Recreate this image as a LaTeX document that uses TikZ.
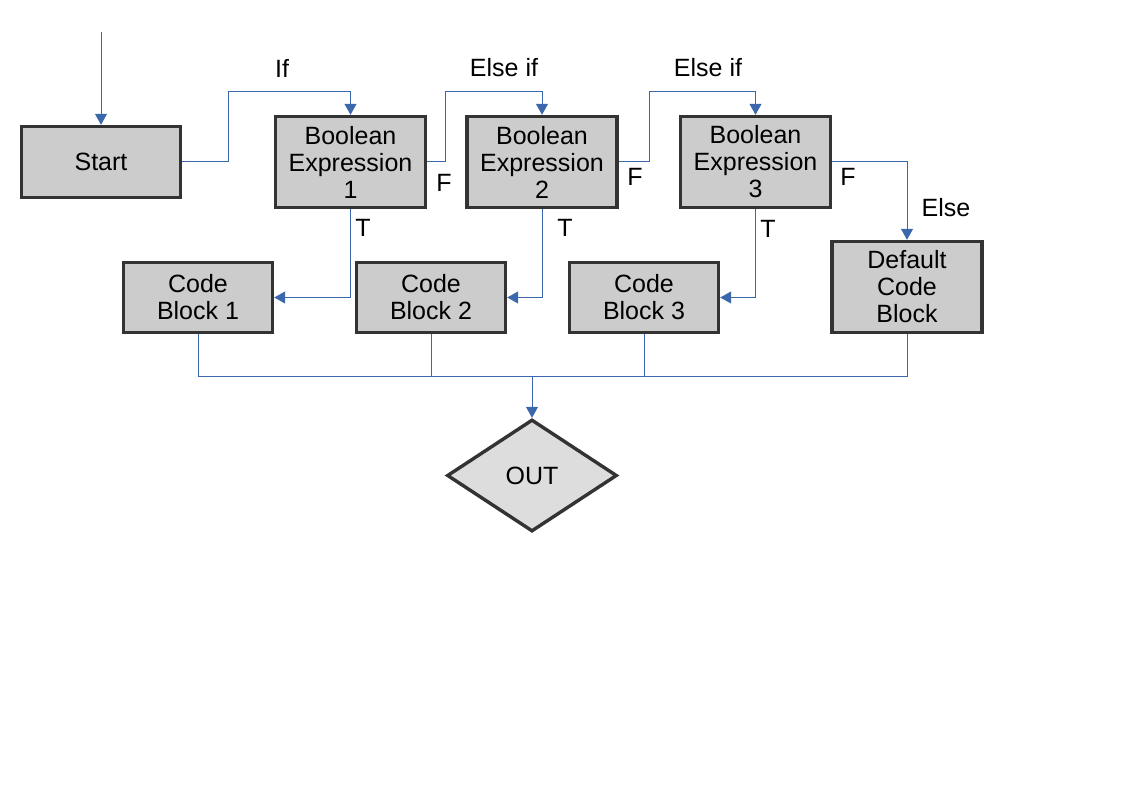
\documentclass[tikz,border=0pt]{standalone}
\usepackage{fontspec}
\setmainfont{Liberation Sans}
\usepackage{tikz}
\usetikzlibrary{arrows.meta,positioning,calc,shapes.geometric}
\definecolor{wire}{HTML}{3B68AC}
\definecolor{edge}{HTML}{333333}
\definecolor{boxfill}{HTML}{CCCCCC}
\definecolor{outfill}{HTML}{DDDDDD}
\tikzset{
  >={Triangle[length=11pt,width=12pt]},
  box/.style={draw=edge,fill=boxfill,line width=3.4pt,inner sep=0pt,align=center,font=\fontsize{25}{27}\selectfont},
  bexp/.style={box,minimum width=150pt,minimum height=91pt},
  cblk/.style={box,minimum width=149pt,minimum height=70pt},
  lab/.style={font=\fontsize{25}{27}\selectfont},
  wline/.style={draw=wire,line width=1pt},
  arr/.style={wline,->},
}
\begin{document}
\begin{tikzpicture}[x=1pt,y=-1pt]
\useasboundingbox (0,0) rectangle (1123,794);
% decision row
\node[box,minimum width=159pt,minimum height=71pt] (start) at (101,162) {Start};
\node[bexp] (be1) at (350.5,162) {Boolean\\Expression\\1};
\node[bexp] (be2) at (542,162) {Boolean\\Expression\\2};
\node[bexp] (be3) at (755.5,162) {Boolean\\Expression\\3};
% code blocks
\node[cblk] (cb1) at (198,297.5) {Code\\Block 1};
\node[cblk] (cb2) at (431,297.5) {Code\\Block 2};
\node[cblk] (cb3) at (644,297.5) {Code\\Block 3};
\node[bexp] (dflt) at (907,287) {Default\\Code\\Block};
\node[box,diamond,fill=outfill,minimum width=170pt,minimum height=112pt] (out) at (532,475.5) {OUT};
% branch labels
\node[lab] (lif) at (282,68) {If};
\node[lab] (lei1) at (504,68) {Else if};
\node[lab] (lei2) at (708,68) {Else if};
\node[lab] (lels) at (946,208) {Else};
\foreach \nm/\x/\y in {f1/444/183,f2/635/177,f3/848/177}{\node[lab] (\nm) at (\x,\y) {F};}
\foreach \nm/\x/\y in {t1/363/228,t2/565/228,t3/768/229}{\node[lab] (\nm) at (\x,\y) {T};}
% connectors
\coordinate (entry) at ([yshift=93pt]start.north);
\coordinate (bus) at (532,376);
\draw[arr] (entry) -- (start.north);
\draw[arr] (start.east) -- ++(46,0) |- ([yshift=23pt]be1.north) -- (be1.north);
\draw[arr] (be1.east) -- ++(18,0) |- ([yshift=23pt]be2.north) -- (be2.north);
\draw[arr] (be2.east) -- ++(31,0) |- ([yshift=23pt]be3.north) -- (be3.north);
\draw[arr] (be3.east) -| (dflt.north);
\draw[arr] (be1.south) |- (cb1.east);
\draw[arr] (be2.south) |- (cb2.east);
\draw[arr] (be3.south) |- (cb3.east);
\foreach \b in {cb1,cb2,cb3,dflt}{\draw[wline] (\b.south) |- (bus);}
\draw[arr] (bus) -- (out.north);
\end{tikzpicture}
\end{document}
